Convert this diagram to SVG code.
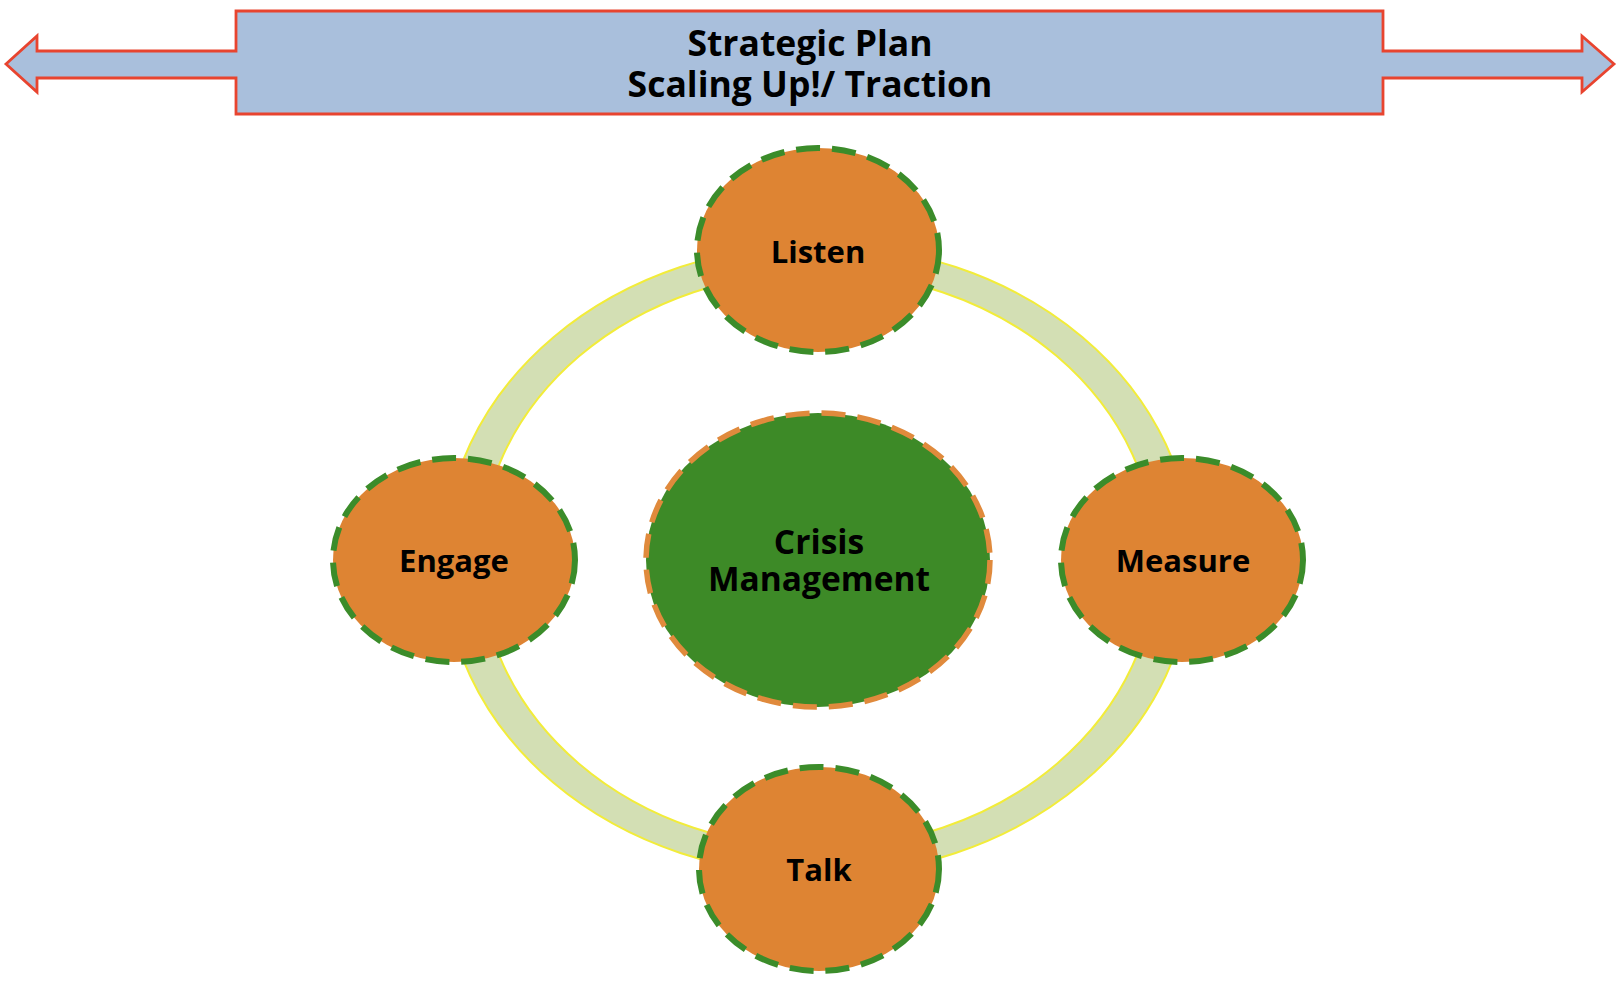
<svg xmlns="http://www.w3.org/2000/svg" width="1620" height="988" viewBox="0 0 1620 988">
  <style>
    .lbl { font-family: "Open Sans", "Liberation Sans", sans-serif; font-weight: bold; fill: #000; text-anchor: middle; }
    .node { fill: #de8433; stroke: #3b8c2a; stroke-width: 6; stroke-dasharray: 24 12; }
    .core { fill: #3d8a27; stroke: #e08a3c; stroke-width: 5.5; stroke-dasharray: 24 12; }
  </style>
  <rect width="1620" height="988" fill="#ffffff"/>
  <g id="banner">
    <polygon points="6,64 37,36 37,51 236,51 236,11 1383,11 1383,51 1582,51 1582,36 1614,64 1582,92 1582,78 1383,78 1383,114 236,114 236,78 37,78 37,92" fill="#a9bfdc" stroke="#e8442f" stroke-width="2.8" stroke-linejoin="miter"/>
    <text class="lbl" x="810" y="56" font-size="35.5">Strategic Plan</text>
    <text class="lbl" x="810" y="97" font-size="35.5">Scaling Up!/ Traction</text>
  </g>
  <g id="connectors">
    <path d="M444,560 a374,315 0 1,0 748,0 a374,315 0 1,0 -748,0 Z M480,560 a338,288 0 1,0 676,0 a338,288 0 1,0 -676,0 Z" fill="#d3dfb4" fill-rule="evenodd" stroke="#f2ec3a" stroke-width="2"/>
  </g>
  <g id="listen">
    <ellipse class="node" cx="818" cy="250" rx="121" ry="102"/>
    <text class="lbl" x="818" y="263" font-size="31">Listen</text>
  </g>
  <g id="engage">
    <ellipse class="node" cx="454" cy="560" rx="121" ry="102"/>
    <text class="lbl" x="454" y="572" font-size="31">Engage</text>
  </g>
  <g id="measure">
    <ellipse class="node" cx="1182" cy="560" rx="121" ry="102"/>
    <text class="lbl" x="1183" y="572" font-size="31">Measure</text>
  </g>
  <g id="talk">
    <ellipse class="node" cx="819" cy="869" rx="120" ry="102"/>
    <text class="lbl" x="819" y="881" font-size="31">Talk</text>
  </g>
  <g id="crisis">
    <ellipse class="core" cx="818" cy="560" rx="172" ry="147"/>
    <text class="lbl" x="819" y="554" font-size="33.5">Crisis</text>
    <text class="lbl" x="819" y="591" font-size="33.5">Management</text>
  </g>
</svg>
